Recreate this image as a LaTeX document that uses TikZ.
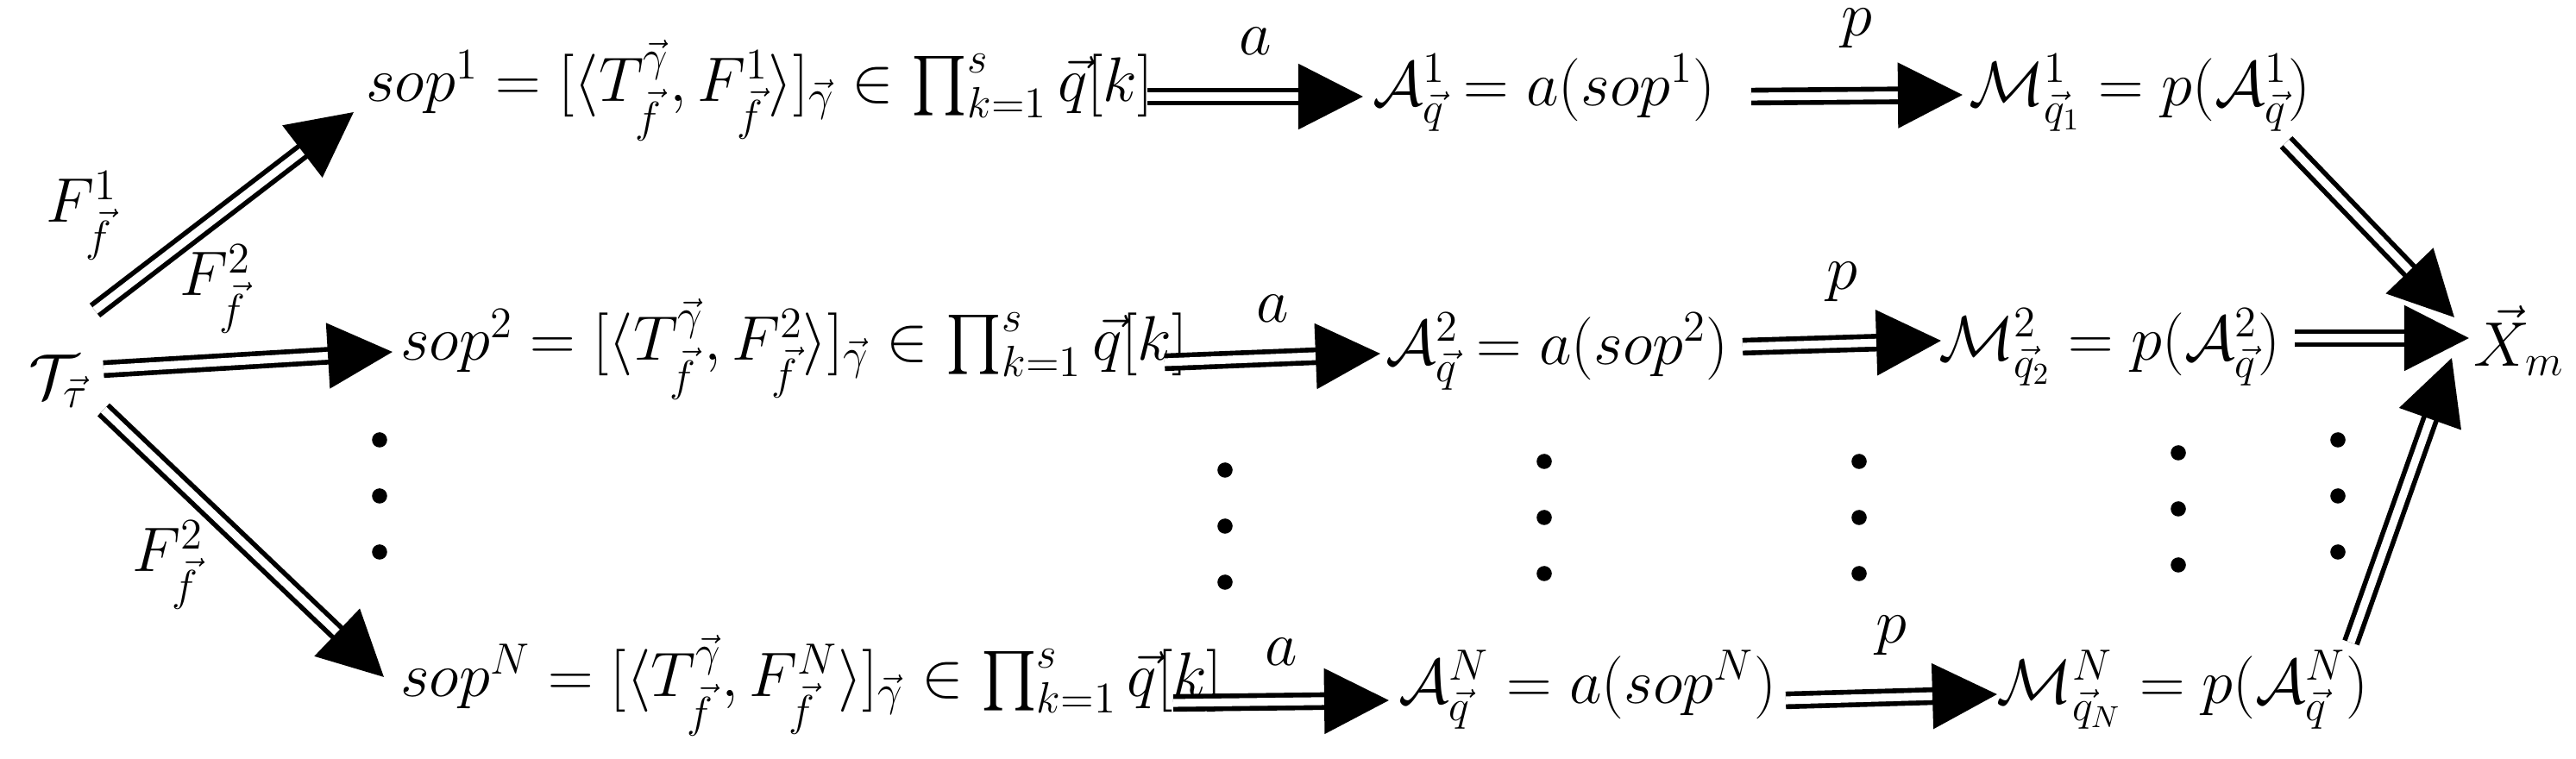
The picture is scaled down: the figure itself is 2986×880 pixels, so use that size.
\documentclass[tikz,border=0pt]{standalone}
\usepackage{amsmath,amssymb}
\usetikzlibrary{arrows.meta}
\begin{document}
\begin{tikzpicture}[x=0.01cm,y=-0.01cm,
  lbl/.style={inner sep=1pt,font=\fontsize{19.5}{23}\selectfont},
  dbl/.style={draw=black,line width=1.6pt,double=white,double distance=2.6pt,
    -{Triangle[length=0.75cm,width=0.75cm]}},
  dot/.style={circle,fill=black,inner sep=0pt,minimum size=5pt}]
\useasboundingbox (0,0) rectangle (2986,880);
\node[lbl] (T) at (68,442) {$\mathcal{T}_{\vec\tau}$};
\node[lbl,anchor=west] (s1) at (420,105) {$sop^1=[\langle T^{\vec\gamma}_{\vec f},F^1_{\vec f}\rangle]_{\vec\gamma}\in\prod_{k=1}^{s}\vec q[k]$};
\node[lbl,anchor=west] (s2) at (460,405) {$sop^2=[\langle T^{\vec\gamma}_{\vec f},F^2_{\vec f}\rangle]_{\vec\gamma}\in\prod_{k=1}^{s}\vec q[k]$};
\node[lbl,anchor=west] (sN) at (460,795) {$sop^N=[\langle T^{\vec\gamma}_{\vec f},F^N_{\vec f}\rangle]_{\vec\gamma}\in\prod_{k=1}^{s}\vec q[k]$};
\node[lbl] (A1) at (1790,108) {$\mathcal{A}^1_{\vec q}=a(sop^1)$};
\node[lbl] (A2) at (1805,408) {$\mathcal{A}^2_{\vec q}=a(sop^2)$};
\node[lbl] (AN) at (1840,800) {$\mathcal{A}^N_{\vec q}=a(sop^N)$};
\node[lbl] (M1) at (2480,108) {$\mathcal{M}^1_{\vec q_1}=p(\mathcal{A}^1_{\vec q})$};
\node[lbl] (M2) at (2445,403) {$\mathcal{M}^2_{\vec q_2}=p(\mathcal{A}^2_{\vec q})$};
\node[lbl] (MN) at (2530,800) {$\mathcal{M}^N_{\vec q_N}=p(\mathcal{A}^N_{\vec q})$};
\node[lbl] (X) at (2920,395) {$\vec X_m$};
\node[lbl] (F1) at (95,250) {$F^1_{\vec f}$};
\node[lbl] (F2) at (250,335) {$F^2_{\vec f}$};
\node[lbl] (F3) at (195,655) {$F^2_{\vec f}$};
% arrows
\coordinate (t1) at (110,360); \coordinate (e1) at (410,130);
\coordinate (t2) at (120,428); \coordinate (e2) at (455,408);
\coordinate (t3) at (120,475); \coordinate (e3) at (445,785);
\draw[dbl] (t1) -- (e1);
\draw[dbl] (t2) -- (e2);
\draw[dbl] (t3) -- (e3);
\coordinate (a1s) at (1330,112); \coordinate (a1e) at (1580,112);
\coordinate (a2s) at (1350,420); \coordinate (a2e) at (1600,410);
\coordinate (a3s) at (1360,815); \coordinate (a3e) at (1610,812);
\draw[dbl] (a1s) -- (a1e) node[lbl,midway,above=12pt] {$a$};
\draw[dbl] (a2s) -- (a2e) node[lbl,midway,above=10pt] {$a$};
\draw[dbl] (a3s) -- (a3e) node[lbl,midway,above=10pt] {$a$};
\coordinate (p1s) at (2030,112); \coordinate (p1e) at (2275,110);
\coordinate (p2s) at (2020,402); \coordinate (p2e) at (2250,395);
\coordinate (p3s) at (2070,812); \coordinate (p3e) at (2315,805);
\draw[dbl] (p1s) -- (p1e) node[lbl,midway,above=14pt] {$p$};
\draw[dbl] (p2s) -- (p2e) node[lbl,midway,above=12pt] {$p$};
\draw[dbl] (p3s) -- (p3e) node[lbl,midway,above=12pt] {$p$};
\coordinate (m1s) at (2650,165); \coordinate (m1e) at (2845,368);
\coordinate (m2s) at (2660,392); \coordinate (m2e) at (2862,392);
\coordinate (m3s) at (2725,745); \coordinate (m3e) at (2842,415);
\draw[dbl] (m1s) -- (m1e);
\draw[dbl] (m2s) -- (m2e);
\draw[dbl] (m3s) -- (m3e);
% dots
\foreach \x/\y in {440/510,1420/545,1790/535,2155/535,2525/525,2710/510}{
  \node[dot] at (\x,\y) {}; \node[dot] at (\x,\y+65) {}; \node[dot] at (\x,\y+130) {};}
\end{tikzpicture}
\end{document}
